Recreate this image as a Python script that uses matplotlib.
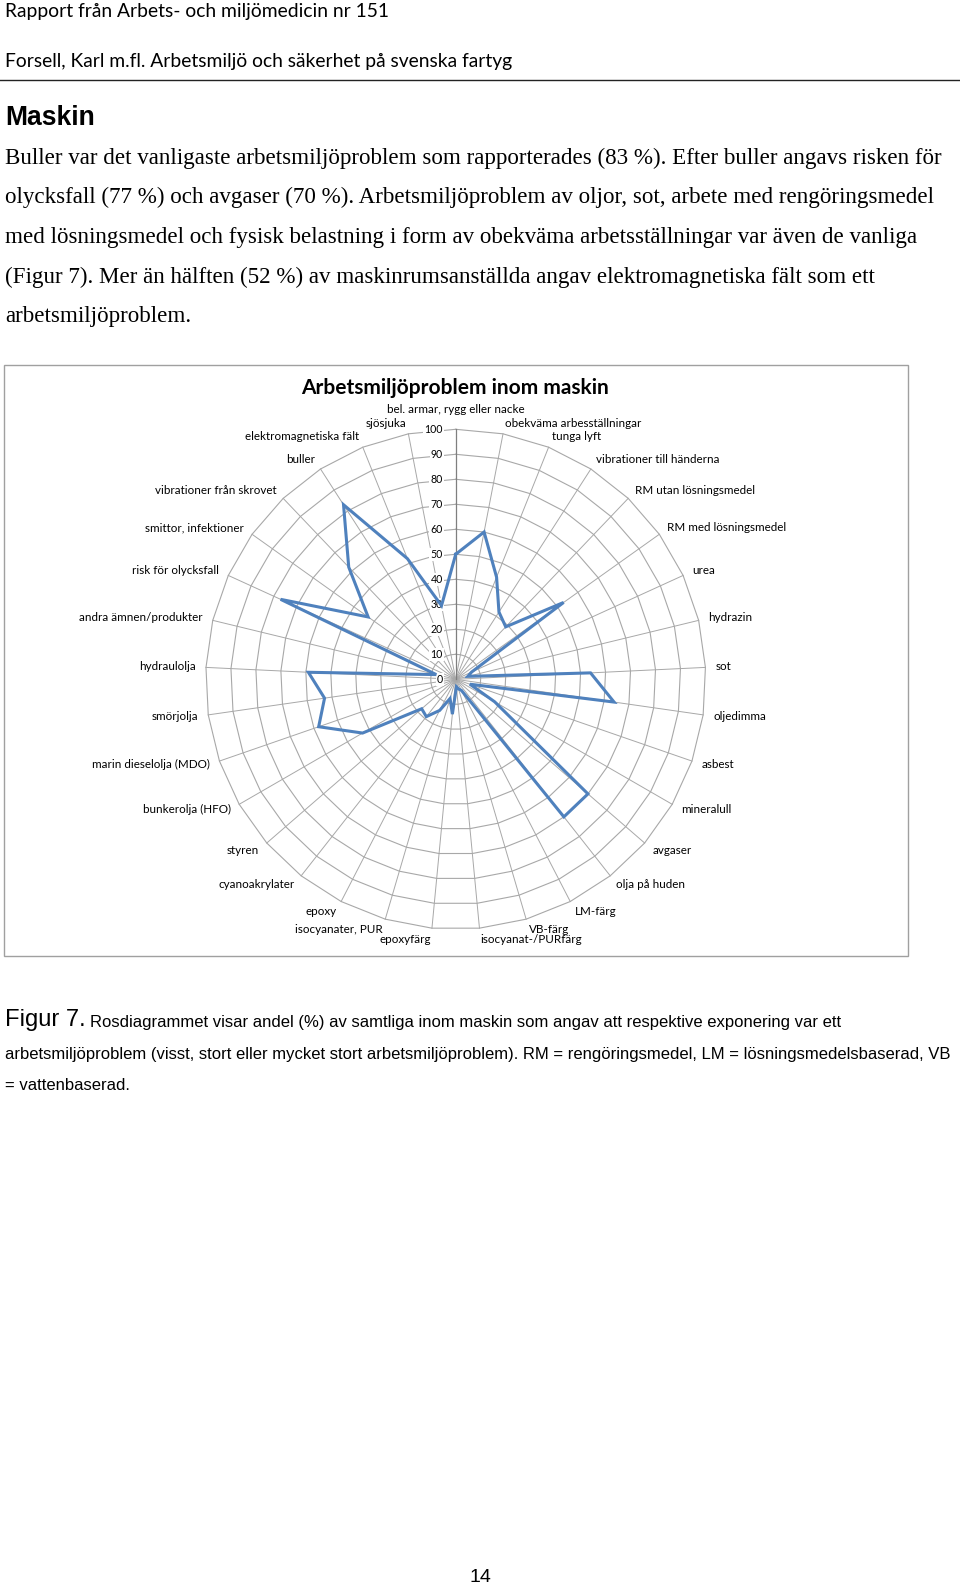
import numpy as np
import matplotlib
matplotlib.use('Agg')
import matplotlib.pyplot as plt
from matplotlib.patches import Rectangle
from matplotlib.lines import Line2D

# ---------------- data ----------------
categories = [
    "bel. armar, rygg eller nacke", "obekväma arbesställningar", "tunga lyft",
    "vibrationer till händerna", "RM utan lösningsmedel", "RM med lösningsmedel",
    "urea", "hydrazin", "sot", "oljedimma", "asbest", "mineralull", "avgaser",
    "olja på huden", "LM-färg", "VB-färg", "isocyanat-/PURfärg", "epoxyfärg",
    "isocyanater, PUR", "epoxy", "cyanoakrylater", "styren", "bunkerolja (HFO)",
    "marin dieselolja (MDO)", "smörjolja", "hydraulolja", "andra ämnen/produkter",
    "risk för olycksfall", "smittor, infektioner", "vibrationer från skrovet",
    "buller", "elektromagnetiska fält", "sjösjuka",
]
values = [50, 60, 44, 32, 29, 53, 7, 5, 54, 64, 6, 18, 70, 70, 5, 4, 3, 14,
          8, 14, 19, 18, 43, 58, 53, 59, 8, 77, 43, 62, 83, 52, 30]
radial_ticks = [0, 10, 20, 30, 40, 50, 60, 70, 80, 90, 100]

title = "Arbetsmiljöproblem inom maskin"
header1 = "Rapport från Arbets- och miljömedicin nr 151"
header2 = "Forsell, Karl m.fl. Arbetsmiljö och säkerhet på svenska fartyg"
heading = "Maskin"
paragraph = [
    "Buller var det vanligaste arbetsmiljöproblem som rapporterades (83 %). Efter buller angavs risken för",
    "olycksfall (77 %) och avgaser (70 %). Arbetsmiljöproblem av oljor, sot, arbete med rengöringsmedel",
    "med lösningsmedel och fysisk belastning i form av obekväma arbetsställningar var även de vanliga",
    "(Figur 7). Mer än hälften (52 %) av maskinrumsanställda angav elektromagnetiska fält som ett",
    "arbetsmiljöproblem.",
]
caption_head = "Figur 7."
caption = [
    "Rosdiagrammet visar andel (%) av samtliga inom maskin som angav att respektive exponering var ett",
    "arbetsmiljöproblem (visst, stort eller mycket stort arbetsmiljöproblem). RM = rengöringsmedel, LM = lösningsmedelsbaserad, VB",
    "= vattenbaserad.",
]
page_number = "14"

# ---------------- figure ----------------
W, H = 960, 1589
fig = plt.figure(figsize=(W / 100, H / 100), dpi=100)
fig.patch.set_facecolor('white')
renderer = fig.canvas.get_renderer()


def fx(x):
    return x / W


def fy(y):
    return 1 - y / H


def put(x, y, s, size, width=None, ha='left', va='center', **kw):
    t = fig.text(fx(x), fy(y), s, fontsize=size, ha=ha, va=va, **kw)
    if width is not None:
        bb = t.get_window_extent(renderer)
        t.set_fontsize(size * width / bb.width)
    return t


# headers (Calibri-like)
hf = 'Lato'
t = put(5, 12, header1, 12, width=383, family=hf, color='black')
hs = t.get_fontsize()
put(5, 62, header2, hs, family=hf, color='black')
fig.add_artist(Line2D([0, 1], [fy(80), fy(80)], color='#222222', lw=1.0))

# heading
put(5, 118, heading, 19, width=90, family='Liberation Sans', weight='bold')

# paragraph
t = put(5, 158, paragraph[0], 15, width=940, family='Liberation Serif')
ps = t.get_fontsize()
for i, line in enumerate(paragraph[1:], start=1):
    put(5, 158 + i * 39.7, line, ps, family='Liberation Serif')

# chart frame
fig.add_artist(Rectangle((fx(4), fy(956)), fx(908) - fx(4), fy(365) - fy(956),
                         fill=False, edgecolor='#a0a0a0', lw=1.0))

# chart title
put(455, 388, title, 14, width=309, ha='center', family=hf, weight='bold')

# ---------------- radar ----------------
cx, cy, R = 455.7, 679.3, 250
ax = fig.add_axes([fx(cx - R), fy(cy + R), 2 * R / W, 2 * R / H], projection='polar')
ax.set_theta_zero_location('N')
ax.set_theta_direction(-1)
ax.set_ylim(0, 100)
ax.grid(False)
ax.set_xticks([])
ax.set_yticks([])
ax.spines['polar'].set_visible(False)
ax.patch.set_alpha(0)

N = len(categories)
theta = np.arange(N) * 2 * np.pi / N
closed_t = np.r_[theta, theta[0]]

grid_col = '#a8a8a8'
for r in radial_ticks[1:]:
    ax.plot(closed_t, [r] * (N + 1), color=grid_col, lw=0.8, zorder=1, clip_on=False)
for i, th in enumerate(theta):
    ax.plot([th, th], [0, 100], color='#7f7f7f' if i == 0 else grid_col,
            lw=0.9 if i == 0 else 0.7, zorder=1.5 if i == 0 else 1, clip_on=False)

# data line
ax.plot(closed_t, list(values) + [values[0]], color='#4f81bd', lw=2.2,
        zorder=5, clip_on=False, solid_joinstyle='miter')

# radial labels
for r in radial_ticks:
    ax.annotate(str(r), xy=(0, r), xytext=(-13, 0), textcoords='offset pixels',
                ha='right', va='center', fontsize=7.6, family=hf, color='black',
                zorder=3, annotation_clip=False,
                bbox=dict(boxstyle='square,pad=0.1', fc='white', ec='none'))

# category labels
probe = fig.text(0, 0, "vibrationer till händerna", fontsize=8, family=hf)
cs = 8 * 123 / probe.get_window_extent(renderer).width
probe.remove()
for th, lab in zip(theta, categories):
    s, c = np.sin(th), np.cos(th)
    if abs(s) < 0.01:
        ha, off = 'center', (0, 20 * np.sign(c))
    else:
        ha = 'left' if s > 0 else 'right'
        off = (10 * s, 11 * c)
    ax.annotate(lab, xy=(th, 100), xytext=off, textcoords='offset pixels',
                ha=ha, va='center', fontsize=cs, family=hf, color='black',
                annotation_clip=False)

# ---------------- caption ----------------
put(5, 1020, caption_head, 14, width=81, family='Liberation Sans')
t = put(5, 1055, caption[1], 11, width=936, family='Liberation Sans')
cap_s = t.get_fontsize()
put(90, 1022, caption[0], cap_s, family='Liberation Sans')
put(5, 1085, caption[2], cap_s, family='Liberation Sans')

# page number
put(480, 1578, page_number, 14, ha='center', family='Liberation Sans')

fig.savefig('out.png', dpi=100, facecolor='white')
